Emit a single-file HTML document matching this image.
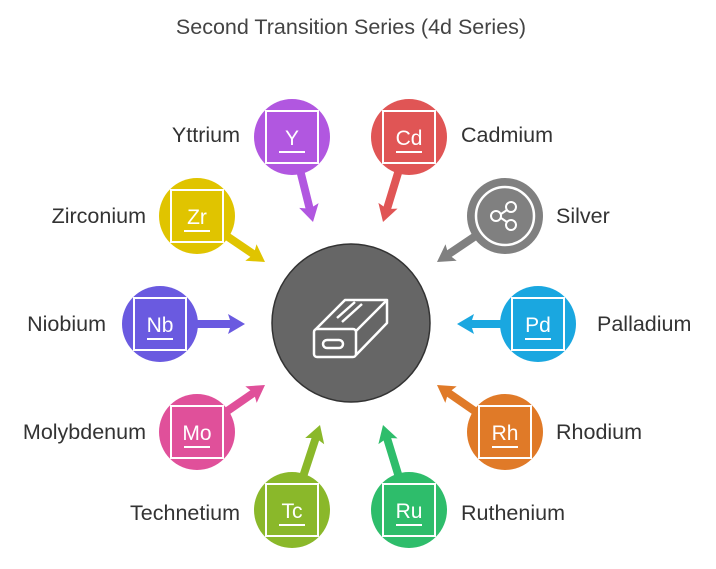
<!DOCTYPE html>
<html><head><meta charset="utf-8"><style>
body{margin:0;background:#fff;width:716px;height:564px;overflow:hidden}
svg text{font-family:"Liberation Sans",sans-serif}
</style></head><body>
<svg width="716" height="564" viewBox="0 0 716 564" xmlns="http://www.w3.org/2000/svg">
<text x="351" y="34" font-size="21.5" fill="#444" text-anchor="middle">Second Transition Series (4d Series)</text>
<defs>
<polygon id="ar" points="0,0 -17,-10 -15,-4 -58,-4 -58,4 -15,4 -17,10"/>
</defs>
<use href="#ar" fill="#b157e0" transform="translate(313,222) rotate(76)"/>
<use href="#ar" fill="#e05555" transform="translate(383,222) rotate(107)"/>
<use href="#ar" fill="#808080" transform="translate(437,262) rotate(146)"/>
<use href="#ar" fill="#1aa7e0" transform="translate(457,324) rotate(180)"/>
<use href="#ar" fill="#e07a28" transform="translate(437,385) rotate(214.6)"/>
<use href="#ar" fill="#2ebd6b" transform="translate(383,425) rotate(253)"/>
<use href="#ar" fill="#8ab82a" transform="translate(320,425) rotate(-71.8)"/>
<use href="#ar" fill="#e0509a" transform="translate(265,385) rotate(-34.6)"/>
<use href="#ar" fill="#6a5ae0" transform="translate(245,324) rotate(0)"/>
<use href="#ar" fill="#e0c400" transform="translate(265,262) rotate(34.1)"/>
<circle cx="351" cy="323" r="79" fill="#666" stroke="#333" stroke-width="1.5"/>
<g fill="none" stroke="#fff" stroke-width="2.5" stroke-linejoin="round">
<rect x="314" y="329" width="42" height="28" rx="3"/>
<path d="M316 329 L345 300 L387 300 L356 331 M387 300 L387 323 L356 355"/>
<rect x="323" y="340" width="20" height="8" rx="4"/>
<path d="M337 318 L355 302 M342 322 L362 304"/>
</g>
<g font-size="21" fill="#fff" text-anchor="middle">
<g transform="translate(292,137)"><circle r="38" fill="#b157e0"/><rect x="-26" y="-26" width="52" height="52" fill="none" stroke="#fff" stroke-width="2"/><text y="8">Y</text><line x1="-13" y1="15" x2="13" y2="15" stroke="#fff" stroke-width="2"/></g>
<g transform="translate(409,137)"><circle r="38" fill="#e05555"/><rect x="-26" y="-26" width="52" height="52" fill="none" stroke="#fff" stroke-width="2"/><text y="8">Cd</text><line x1="-13" y1="15" x2="13" y2="15" stroke="#fff" stroke-width="2"/></g>
<g transform="translate(505,216)"><circle r="38" fill="#808080"/><circle r="29" fill="none" stroke="#fff" stroke-width="2.5"/>
<g fill="none" stroke="#fff" stroke-width="2"><circle cx="-9" cy="0" r="5"/><circle cx="6" cy="-9" r="5"/><circle cx="6" cy="9" r="5"/><path d="M-4 -2 L2 -6 M-4 2 L2 6"/></g></g>
<g transform="translate(538,324)"><circle r="38" fill="#1aa7e0"/><rect x="-26" y="-26" width="52" height="52" fill="none" stroke="#fff" stroke-width="2"/><text y="8">Pd</text><line x1="-13" y1="15" x2="13" y2="15" stroke="#fff" stroke-width="2"/></g>
<g transform="translate(505,432)"><circle r="38" fill="#e07a28"/><rect x="-26" y="-26" width="52" height="52" fill="none" stroke="#fff" stroke-width="2"/><text y="8">Rh</text><line x1="-13" y1="15" x2="13" y2="15" stroke="#fff" stroke-width="2"/></g>
<g transform="translate(409,510)"><circle r="38" fill="#2ebd6b"/><rect x="-26" y="-26" width="52" height="52" fill="none" stroke="#fff" stroke-width="2"/><text y="8">Ru</text><line x1="-13" y1="15" x2="13" y2="15" stroke="#fff" stroke-width="2"/></g>
<g transform="translate(292,510)"><circle r="38" fill="#8ab82a"/><rect x="-26" y="-26" width="52" height="52" fill="none" stroke="#fff" stroke-width="2"/><text y="8">Tc</text><line x1="-13" y1="15" x2="13" y2="15" stroke="#fff" stroke-width="2"/></g>
<g transform="translate(197,432)"><circle r="38" fill="#e0509a"/><rect x="-26" y="-26" width="52" height="52" fill="none" stroke="#fff" stroke-width="2"/><text y="8">Mo</text><line x1="-13" y1="15" x2="13" y2="15" stroke="#fff" stroke-width="2"/></g>
<g transform="translate(160,324)"><circle r="38" fill="#6a5ae0"/><rect x="-26" y="-26" width="52" height="52" fill="none" stroke="#fff" stroke-width="2"/><text y="8">Nb</text><line x1="-13" y1="15" x2="13" y2="15" stroke="#fff" stroke-width="2"/></g>
<g transform="translate(197,216)"><circle r="38" fill="#e0c400"/><rect x="-26" y="-26" width="52" height="52" fill="none" stroke="#fff" stroke-width="2"/><text y="8">Zr</text><line x1="-13" y1="15" x2="13" y2="15" stroke="#fff" stroke-width="2"/></g>
</g>
<g font-size="21.5" fill="#333">
<text x="240" y="142" text-anchor="end">Yttrium</text>
<text x="461" y="142">Cadmium</text>
<text x="556" y="223">Silver</text>
<text x="597" y="331">Palladium</text>
<text x="556" y="439">Rhodium</text>
<text x="461" y="520">Ruthenium</text>
<text x="240" y="520" text-anchor="end">Technetium</text>
<text x="146" y="439" text-anchor="end">Molybdenum</text>
<text x="106" y="331" text-anchor="end">Niobium</text>
<text x="146" y="223" text-anchor="end">Zirconium</text>
</g>
</svg>
</body></html>
